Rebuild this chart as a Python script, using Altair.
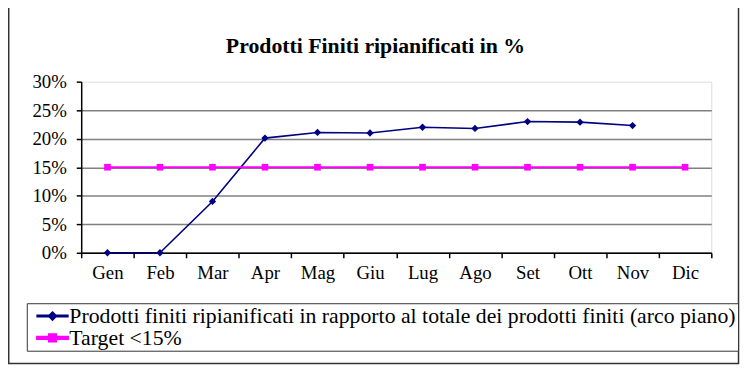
import altair as alt
import pandas as pd

months = ["Gen", "Feb", "Mar", "Apr", "Mag", "Giu", "Lug", "Ago", "Set", "Ott", "Nov", "Dic"]
actual = [0.0, 0.0, 0.090, 0.201, 0.211, 0.210, 0.220, 0.218, 0.230, 0.229, 0.223, None]
target = [0.15, 0.15, 0.15, 0.15, 0.15, 0.15, 0.15, 0.15, 0.15, 0.15, 0.15, 0.15]

S1 = "Prodotti finiti ripianificati in rapporto al totale dei prodotti finiti (arco piano)"
S2 = "Target <15%"
series_names = [S1, S2]
series_colors = ["#000080", "#FF00FF"]
y_ticks = [0, 0.05, 0.10, 0.15, 0.20, 0.25, 0.30]

rows = []
for m, a, t in zip(months, actual, target):
    if a is not None:
        rows.append({"mese": m, "valore": a, "serie": S1})
    rows.append({"mese": m, "valore": t, "serie": S2})
df = pd.DataFrame(rows)

FONT = "Liberation Serif, Times New Roman, serif"

x_enc = alt.X(
    "mese:N", sort=months,
    scale=alt.Scale(type="band", paddingInner=0, paddingOuter=0),
    axis=alt.Axis(title=None, tickBand="extent", labelAngle=0, labelFont=FONT,
                  labelFontSize=19, labelColor="black", domainColor="black",
                  tickColor="black", tickSize=5, labelPadding=6, grid=False,
                  domainWidth=1.5, tickWidth=1.5),
)
y_enc = alt.Y(
    "valore:Q", scale=alt.Scale(domain=[0, 0.3], nice=False),
    axis=alt.Axis(title=None, format=".0%", values=y_ticks, labelFont=FONT,
                  labelFontSize=19, labelColor="black", domainColor="black",
                  tickColor="black", tickSize=5, labelPadding=10,
                  domainWidth=1.5, tickWidth=1.5,
                  grid=True, gridColor="#808080", gridWidth=1.5,
                  gridOpacity=alt.condition("datum.value >= 0.29", alt.value(0), alt.value(1))),
)
color_scale = alt.Scale(domain=series_names, range=series_colors)

base = alt.Chart(df).encode(x=x_enc, y=y_enc)

path1 = "M-1.94,-0.094H1.94V0.094H-1.94Z M0,-0.5L0.5,0L0,0.5L-0.5,0Z"
path2 = "M-1.94,-0.125H1.94V0.125H-1.94Z M-0.44,-0.44H0.44V0.44H-0.44Z"

leg = alt.Legend(
    title=None, orient="none", legendX=-55, legendY=224, direction="vertical",
    labelFont=FONT, labelFontSize=22, labelColor="black", labelLimit=1000,
    symbolSize=256, symbolOpacity=1, symbolStrokeWidth=0, labelOffset=6,
    symbolOffset=13, strokeColor="#333333", padding=2, rowPadding=0, fillColor="white",
)

legend_layer = base.mark_point(filled=True, opacity=0).encode(
    color=alt.Color("serie:N", scale=color_scale, legend=leg),
    shape=alt.Shape("serie:N", scale=alt.Scale(domain=series_names, range=[path1, path2]), legend=leg),
)

lines = base.mark_line().encode(
    color=alt.Color("serie:N", scale=color_scale, legend=None),
    strokeWidth=alt.StrokeWidth("serie:N", scale=alt.Scale(domain=series_names, range=[1.6, 2.2]), legend=None),
)

pts1 = base.transform_filter(alt.datum.serie == S1).mark_point(
    filled=True, shape="diamond", size=55, opacity=1
).encode(color=alt.Color("serie:N", scale=color_scale, legend=None))

pts2 = base.transform_filter(alt.datum.serie == S2).mark_point(
    filled=True, shape="square", size=45, opacity=1
).encode(color=alt.Color("serie:N", scale=color_scale, legend=None))

frame = alt.Chart(alt.Data(values=[{"k": 1}])).mark_rect(
    fillOpacity=0, stroke="#333333", strokeWidth=1.5
).encode(x=alt.value(-73.25), x2=alt.value(664.5), y=alt.value(-95), y2=alt.value(285))

chart = alt.layer(legend_layer, frame, lines, pts1, pts2).properties(
    width=637, height=173,
    title=alt.TitleParams("Prodotti Finiti ripianificati in %", font=FONT, fontSize=22,
                          fontWeight="bold", color="black", anchor="middle", dx=-21,
                          offset=20, dy=92),
    autosize=alt.AutoSizeParams(type="none"),
    padding={"left": 74, "top": 72.5, "right": 29, "bottom": 112.5},
).configure_view(stroke=None).configure(background="white")

chart.save("out.html", embed_options={"renderer": "svg", "actions": False})
